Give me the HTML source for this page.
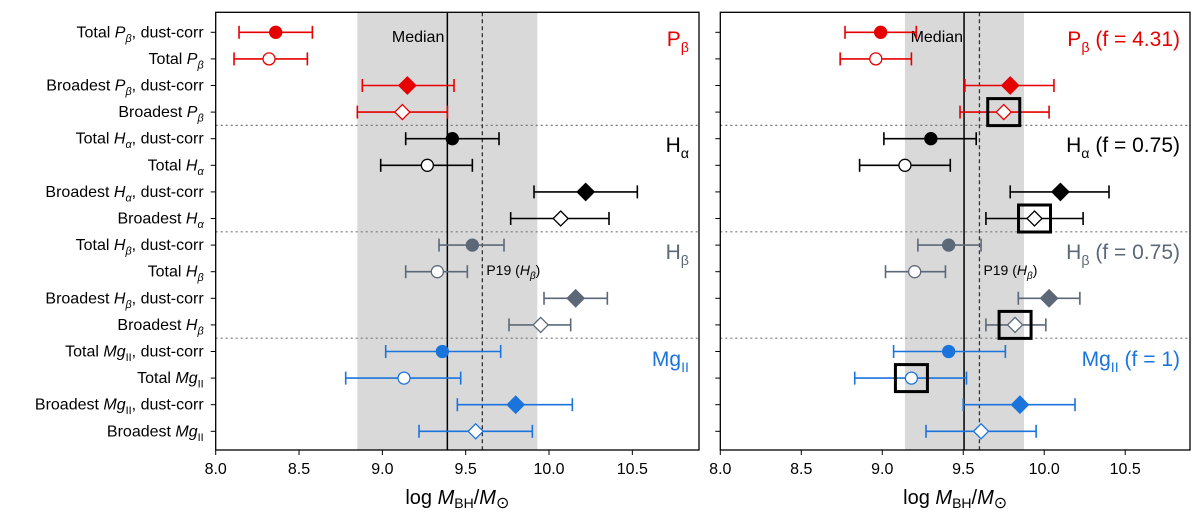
<!DOCTYPE html>
<html><head><meta charset="utf-8"><style>
body{margin:0;background:#fff;}
svg{display:block;font-family:"Liberation Sans","DejaVu Sans",sans-serif;}
</style></head><body>
<svg id="chart" width="1200" height="522" viewBox="0 0 1200 522" xmlns="http://www.w3.org/2000/svg"></svg>
<script>
const rowLabels=["Total|P|β|, dust-corr","Total|P|β|","Broadest|P|β|, dust-corr","Broadest|P|β|",
"Total|H|α|, dust-corr","Total|H|α|","Broadest|H|α|, dust-corr","Broadest|H|α|",
"Total|H|β|, dust-corr","Total|H|β|","Broadest|H|β|, dust-corr","Broadest|H|β|",
"Total|Mg|II|, dust-corr","Total|Mg|II|","Broadest|Mg|II|, dust-corr","Broadest|Mg|II|"];
const leftVal=[8.36,8.32,9.15,9.12,9.42,9.27,10.22,10.07,9.54,9.33,10.16,9.95,9.36,9.13,9.80,9.56];
const leftLo=[8.14,8.11,8.88,8.85,9.14,8.99,9.91,9.77,9.34,9.14,9.97,9.76,9.02,8.78,9.45,9.22];
const leftHi=[8.58,8.55,9.43,9.39,9.70,9.54,10.53,10.36,9.73,9.51,10.35,10.13,9.71,9.47,10.14,9.90];
const rightVal=[8.99,8.96,9.79,9.75,9.30,9.14,10.10,9.94,9.41,9.20,10.03,9.82,9.41,9.18,9.85,9.61];
const rightLo=[8.77,8.74,9.51,9.48,9.01,8.86,9.79,9.64,9.22,9.02,9.84,9.64,9.07,8.83,9.50,9.27];
const rightHi=[9.21,9.18,10.06,10.03,9.58,9.42,10.40,10.24,9.61,9.39,10.22,10.01,9.76,9.52,10.19,9.95];
const rightBoxed=[3,7,11,13];
const leftMedian=9.39, leftP19=9.60, leftBand=[8.85,9.93];
const rightMedian=9.505, rightP19=9.60, rightBand=[9.14,9.875];
const xTicks=[8.0,8.5,9.0,9.5,10.0,10.5];
const xMin=8.0, xMax=10.9;
const groupNamesLeft=["|P|β|","|H|α|","|H|β|","|Mg|II|"];
const groupNamesRight=["|P|β| (f = 4.31)","|H|α| (f = 0.75)","|H|β| (f = 0.75)","|Mg|II| (f = 1)"];
const colors=["#e60000","#000000","#5c6878","#1b74dc"];
const NS="http://www.w3.org/2000/svg";
const svg=document.getElementById('chart');
function mk(t,a,p){const e=document.createElementNS(NS,t);for(const k in a)e.setAttribute(k,a[k]);(p||svg).appendChild(e);return e;}
const yTop=12.3,yBot=450;
function yRow(i){return 32.3+i*26.6;}
function mkText(parts,x,y,size,color,anchor,subItalic){
  const t=mk('text',{x:x,y:y,'font-size':size,fill:color,'text-anchor':anchor});
  const p=parts.split('|');
  const a=document.createElementNS(NS,'tspan');a.textContent=p[0]+(p.length>1&&p[0]?' ':'');t.appendChild(a);
  if(p.length>1){
    const b=document.createElementNS(NS,'tspan');b.textContent=p[1];if(subItalic)b.setAttribute('font-style','italic');t.appendChild(b);
    const c=document.createElementNS(NS,'tspan');c.textContent=p[2];c.setAttribute('font-size',size*0.68);c.setAttribute('dy',size*0.28);
    if(subItalic&&p[2]!=='II')c.setAttribute('font-style','italic');t.appendChild(c);
    if(p[3]){const d=document.createElementNS(NS,'tspan');d.textContent=p[3];d.setAttribute('dy',-size*0.28);t.appendChild(d);}
  }
  return t;
}
function panel(name,L,R,vals,lo,hi,median,p19,band,groups,boxed,showLabels){
  const g=mk('g',{});  
  const sx=v=>L+(v-xMin)/(xMax-xMin)*(R-L);
  const bd=mk('rect',{x:sx(band[0]),y:yTop,width:sx(band[1])-sx(band[0]),height:yBot-yTop,fill:'#d9d9d9'},g);
  
  [yRow(3.5),yRow(7.5),yRow(11.5)].forEach(y=>{const l=mk('line',{x1:L,x2:R,y1:y,y2:y,stroke:'#777','stroke-width':1.2,'stroke-dasharray':'2,3'},g);
    });
  const ml=mk('line',{x1:sx(median),x2:sx(median),y1:yTop,y2:yBot,stroke:'#000','stroke-width':1.5},g);
  
  const pl=mk('line',{x1:sx(p19),x2:sx(p19),y1:yTop,y2:yBot,stroke:'#333','stroke-width':1.3,'stroke-dasharray':'4,3'},g);
  
  const mt=mk('text',{x:name==='left-panel'?sx(median)-3:sx(median)-1,y:42,'font-size':16,'text-anchor':'end',fill:'#000'},g);mt.textContent='Median';
  
  const pt=mk('text',{x:sx(p19)+4,y:275,'font-size':14,fill:'#000'},g);
  pt.innerHTML='P19 (<tspan font-style="italic">H</tspan><tspan font-style="italic" font-size="10" dy="4">β</tspan><tspan dy="-4">)</tspan>';
  
  for(let i=0;i<16;i++){
    const c=colors[Math.floor(i/4)], y=yRow(i), cx=sx(vals[i]);
    const filled=(i%2===0), diamond=(i%4>=2);
    const eg=mk('g',{},g);
    mk('line',{x1:sx(lo[i]),x2:sx(hi[i]),y1:y,y2:y,stroke:c,'stroke-width':1.6},eg);
    mk('line',{x1:sx(lo[i]),x2:sx(lo[i]),y1:y-6.5,y2:y+6.5,stroke:c,'stroke-width':1.6},eg);
    mk('line',{x1:sx(hi[i]),x2:sx(hi[i]),y1:y-6.5,y2:y+6.5,stroke:c,'stroke-width':1.6},eg);
    if(diamond){const r=filled?8.5:7.5;
      mk('polygon',{points:`${cx},${y-r} ${cx+r},${y} ${cx},${y+r} ${cx-r},${y}`,fill:filled?c:'#fff',stroke:c,'stroke-width':1.3},eg);}
    else mk('circle',{cx:cx,cy:y,r:6,fill:filled?c:'#fff',stroke:c,'stroke-width':1.3},eg);
    if(boxed&&boxed.indexOf(i)>=0){const b=mk('rect',{x:cx-16,y:y-13.5,width:32,height:27,fill:'none',stroke:'#000','stroke-width':3},g);
      }
  }
  groups.forEach((s,k)=>{const t=mkText(s,R-10,[42,148,255,362][k]+4,21,colors[k],'end',false);g.appendChild(t);
    });
  const fr=mk('rect',{x:L,y:yTop,width:R-L,height:yBot-yTop,fill:'none',stroke:'#000','stroke-width':1.3},g);
  
  for(let i=0;i<16;i++){mk('line',{x1:L-5,x2:L,y1:yRow(i),y2:yRow(i),stroke:'#000','stroke-width':1},g);
    if(showLabels){const t=mkText(rowLabels[i],L-12,yRow(i)+5,16,'#000','end',true);g.appendChild(t);
      }}
  xTicks.forEach(v=>{mk('line',{x1:sx(v),x2:sx(v),y1:yBot,y2:yBot+5,stroke:'#000','stroke-width':1},g);
    const t=mk('text',{x:sx(v),y:yBot+24,'font-size':16,'text-anchor':'middle',fill:'#000'},g);t.textContent=v.toFixed(1);
    });
  const at=mk('text',{x:(L+R)/2,y:504,'font-size':20,'text-anchor':'middle',fill:'#000'},g);
  at.innerHTML='log  <tspan font-style="italic">M</tspan><tspan font-size="14" dy="4">BH</tspan><tspan dy="-4">/</tspan><tspan font-style="italic">M</tspan><tspan font-size="16" dy="4">⊙</tspan>';
  
}
panel('left-panel',215.7,699,leftVal,leftLo,leftHi,leftMedian,leftP19,leftBand,groupNamesLeft,null,true);
panel('right-panel',720.3,1190,rightVal,rightLo,rightHi,rightMedian,rightP19,rightBand,groupNamesRight,rightBoxed,false);
</script>
</body></html>
